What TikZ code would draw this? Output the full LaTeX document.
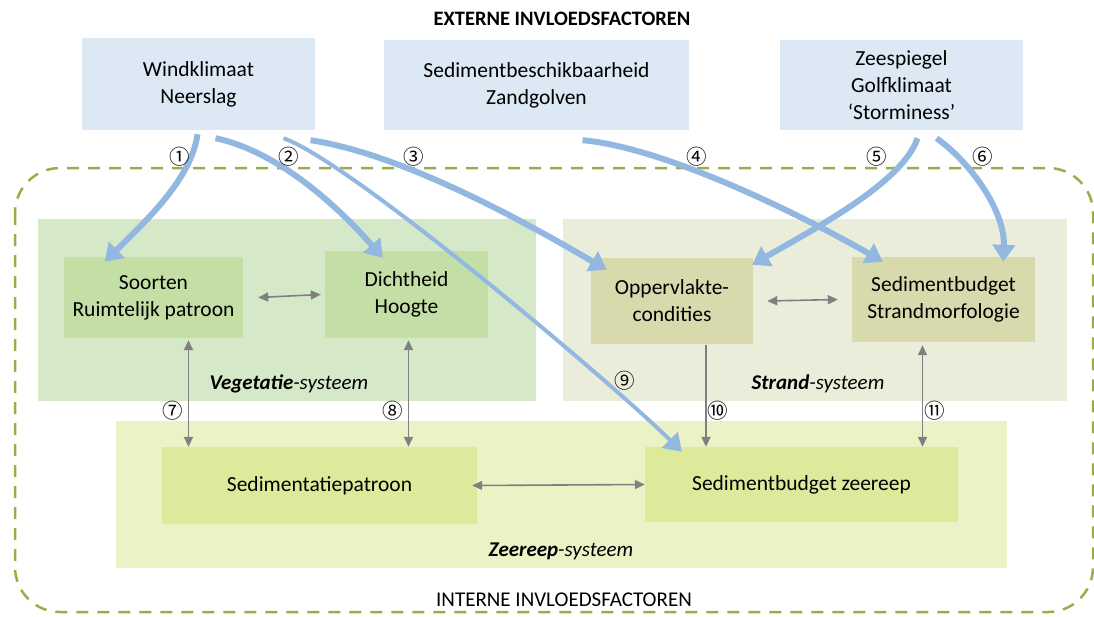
\documentclass[tikz,border=0pt]{standalone}
\usepackage{fontspec}
\setmainfont{Carlito}
\newfontfamily\circfont{Noto Sans CJK JP}
\usetikzlibrary{calc}
\usetikzlibrary{arrows.meta}

\definecolor{topblue}{HTML}{DCE8F4}
\definecolor{vegbg}{HTML}{D5E8C8}
\definecolor{veginner}{HTML}{C3DFA5}
\definecolor{strandbg}{HTML}{EAEDD9}
\definecolor{strandinner}{HTML}{D9D9AE}
\definecolor{zeerbg}{HTML}{EBF2C6}
\definecolor{zeerinner}{HTML}{DDEA9C}
\definecolor{arrowblue}{HTML}{92B8E2}
\definecolor{arrowgray}{HTML}{808080}
\definecolor{frame}{HTML}{9AAE45}

\begin{document}
\begin{tikzpicture}[x=1pt, y=-1pt,
  box/.style={fill=#1, inner sep=0pt, align=center, font=\fontsize{21.5}{27}\selectfont},
  syslabel/.style={font=\fontsize{21}{24}\selectfont\itshape},
  head/.style={font=\fontsize{21}{24}\selectfont},
  nr/.style={font=\circfont\fontsize{20.5}{22}\selectfont, inner sep=0pt},
  extern/.style={line width=6pt, draw=arrowblue, -{Triangle[width=22pt,length=17pt]}},
  thin extern/.style={extern, line width=4pt},
  intern/.style={line width=1.6pt, draw=arrowgray, {Triangle[width=9pt,length=10pt]}-{Triangle[width=9pt,length=10pt]}},
  one way/.style={line width=1.6pt, draw=arrowgray, -{Triangle[width=9pt,length=10pt]}}]
\useasboundingbox (0,0) rectangle (1094,616);

\node[head, font=\fontsize{20.5}{24}\selectfont\bfseries] (ext) at (562,19) {EXTERNE INVLOEDSFACTOREN};
\draw[frame, line width=2.5pt, dash pattern=on 12pt off 9pt, rounded corners=45pt] (15,168) rectangle (1093,612);
\node[head] (int) at (564,600) {INTERNE INVLOEDSFACTOREN};

% externe factoren
\node[box=topblue, minimum width=233, minimum height=92] (wind) at (198.5,84) {Windklimaat\\Neerslag};
\node[box=topblue, minimum width=305, minimum height=90] (sedb) at (536.5,85) {Sedimentbeschikbaarheid\\Zandgolven};
\node[box=topblue, minimum width=243, minimum height=90] (zee) at (901.5,85) {Zeespiegel\\Golfklimaat\\`Storminess'};

% systemen
\node[box=vegbg, minimum width=498, minimum height=182] (veg) at (287,310) {};
\node[box=strandbg, minimum width=504, minimum height=182] (strand) at (815,310) {};
\node[box=zeerbg, minimum width=891, minimum height=147] (zeer) at (561.5,494.5) {};
\node[syslabel] (veglabel) at (289,384) {\textbf{Vegetatie}-systeem};
\node[syslabel] (strandlabel) at (818,384) {\textbf{Strand}-systeem};
\node[syslabel] (zeerlabel) at (561,551) {\textbf{Zeereep}-systeem};

\node[box=veginner, minimum width=179, minimum height=81] (soort) at (153.5,297.5) {Soorten\\Ruimtelijk patroon};
\node[box=veginner, minimum width=163, minimum height=87] (dicht) at (406.5,294.5) {Dichtheid\\Hoogte};
\node[box=strandinner, minimum width=162, minimum height=86] (opp) at (672,301) {Oppervlakte-\\condities};
\node[box=strandinner, minimum width=183, minimum height=85] (sbs) at (943.5,299.5) {Sedimentbudget\\Strandmorfologie};
\node[box=zeerinner, minimum width=315, minimum height=77] (sedp) at (319.5,485.5) {Sedimentatiepatroon};
\node[box=zeerinner, minimum width=313, minimum height=75] (sbz) at (801.5,484.5) {Sedimentbudget zeereep};

% interne relaties
\draw[intern] ($(soort.east)+(15,0)$) -- ($(dicht.west)+(-4,0)$);
\draw[intern] ($(opp.east)+(14,0)$) -- ($(sbs.west)+(-14,0)$);
\draw[intern] ($(sedp.east)+(-5,0)$) -- (sbz.west);
\draw[intern] ($(soort.south)+(35,2)$) coordinate (s7) -- (s7 |- sedp.north);
\draw[intern] ($(dicht.south)+(2,2)$) coordinate (s8) -- (s8 |- sedp.north);
\draw[one way] ($(opp.south)+(34,1)$) coordinate (s10) -- (s10 |- sbz.north);
\draw[intern] ($(sbs.south)+(-21,3)$) coordinate (s11) -- (s11 |- sbz.north);

% externe invloeden
\draw[extern] ($(wind.south)+(-1,4)$) .. controls +(-6,45) and +(40,-40) .. ($(soort.north west)+(41,5)$);
\draw[extern] ($(wind.south)+(17,8)$) .. controls +(70,15) and +(-35,-40) .. ($(dicht.north west)+(58,7)$);
\draw[thin extern] ($(wind.south)+(85,8)$) .. controls +(70,25) and +(-60,-60) .. ($(sbz.north west)+(37,5)$);
\draw[extern] ($(wind.south)+(112,10)$) .. controls +(100,15) and +(-60,-35) .. ($(opp.north west)+(16,12)$);
\draw[extern] ($(sedb.south)+(46,10)$) .. controls +(90,8) and +(-60,-35) .. ($(sbs.north west)+(31,5)$);
\draw[extern] ($(zee.south)+(16,8)$) .. controls +(-15,45) and +(60,-35) .. ($(opp.north east)+(-1,7)$);
\draw[extern] ($(zee.south)+(35,8)$) .. controls +(35,25) and +(2,-50) .. ($(sbs.north east)+(-32,5)$);

\node[nr] (n1) at (180,157) {①};
\node[nr] (n2) at (289,157) {②};
\node[nr] (n3) at (414,157) {③};
\node[nr] (n4) at (697,157) {④};
\node[nr] (n5) at (877,157) {⑤};
\node[nr] (n6) at (983,157) {⑥};
\node[nr] (n7) at (173,411) {⑦};
\node[nr] (n8) at (393,411) {⑧};
\node[nr] (n9) at (625,381) {⑨};
\node[nr] (n10) at (718,411) {⑩};
\node[nr] (n11) at (935,411) {⑪};
\end{tikzpicture}
\end{document}
